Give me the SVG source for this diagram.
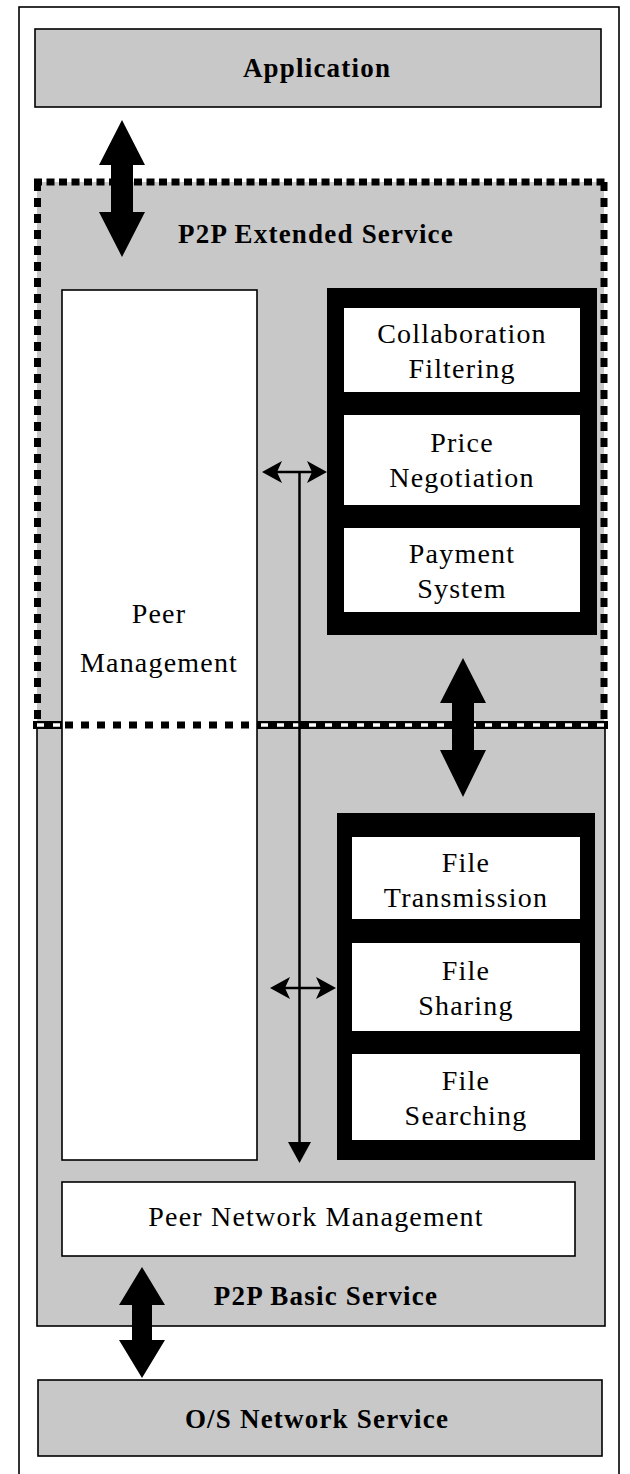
<svg xmlns="http://www.w3.org/2000/svg" width="630" height="1474" viewBox="0 0 630 1474">
  <style>
    .panel { fill: #c8c8c8; stroke: #000; stroke-width: 1.6; }
    .white { fill: #fff; stroke: #000; stroke-width: 1.6; }
    .black { fill: #000; }
    .inner { fill: #fff; }
    .title { font-family: "Liberation Serif", "Times New Roman", serif; font-weight: bold; font-size: 27px; letter-spacing: 1.2px; text-anchor: middle; fill: #000; }
    .label { font-family: "Liberation Serif", "Times New Roman", serif; font-size: 28px; letter-spacing: 1.2px; text-anchor: middle; fill: #000; }
    .dots { fill: none; stroke: #000; stroke-width: 7; }
    .thin { stroke: #000; stroke-width: 2.5; fill: none; }
  </style>

  <!-- outer frame (open at the bottom edge) -->
  <rect x="19" y="7" width="600" height="1490" fill="#fff" stroke="#000" stroke-width="1.6"/>

  <!-- top layer -->
  <g id="application">
    <rect class="panel" x="35" y="29" width="566" height="78"/>
    <text class="title" x="317" y="77">Application</text>
  </g>

  <!-- extended service area -->
  <g id="p2p-extended-service">
    <rect x="37" y="182" width="567" height="544" fill="#c8c8c8"/>
    <text class="title" x="316" y="243">P2P Extended Service</text>
  </g>

  <!-- basic service area -->
  <g id="p2p-basic-service">
    <rect class="panel" x="37" y="726" width="568" height="600"/>
    <text class="title" x="326" y="1305">P2P Basic Service</text>
  </g>

  <g id="peer-management">
    <rect class="white" x="62" y="290" width="195" height="870"/>
    <text class="label" x="159" y="623">Peer</text>
    <text class="label" x="159" y="672">Management</text>
  </g>

  <!-- boundary between extended and basic service -->
  <g id="service-boundary">
    <line x1="33" y1="725" x2="62" y2="725" stroke="#000" stroke-width="8"/>
    <line x1="257" y1="725" x2="608" y2="725" stroke="#000" stroke-width="8"/>
    <line x1="37" y1="725" x2="608" y2="725" stroke="#fff" stroke-width="3.5" stroke-dasharray="7 9"/>
    <line x1="65" y1="725" x2="257" y2="725" stroke="#000" stroke-width="7" stroke-dasharray="8 8"/>
  </g>

  <!-- dotted outline of the extended service area -->
  <g id="extended-outline">
    <line class="dots" x1="34" y1="182" x2="607" y2="182" stroke-dasharray="8 4.5"/>
    <line class="dots" x1="37.5" y1="182" x2="37.5" y2="722" stroke-dasharray="9 7"/>
    <line class="dots" x1="604" y1="182" x2="604" y2="722" stroke-dasharray="9 7"/>
  </g>

  <g id="extended-modules">
    <rect class="black" x="327" y="288" width="270" height="347"/>
    <g id="collaboration-filtering">
      <rect class="inner" x="344" y="308" width="236" height="84"/>
      <text class="label" x="462" y="343">Collaboration</text>
      <text class="label" x="462" y="378">Filtering</text>
    </g>
    <g id="price-negotiation">
      <rect class="inner" x="344" y="415" width="236" height="90"/>
      <text class="label" x="462" y="452">Price</text>
      <text class="label" x="462" y="487">Negotiation</text>
    </g>
    <g id="payment-system">
      <rect class="inner" x="344" y="528" width="236" height="84"/>
      <text class="label" x="462" y="563">Payment</text>
      <text class="label" x="462" y="598">System</text>
    </g>
  </g>

  <g id="basic-modules">
    <rect class="black" x="337" y="813" width="258" height="347"/>
    <g id="file-transmission">
      <rect class="inner" x="352" y="837" width="228" height="82"/>
      <text class="label" x="466" y="872">File</text>
      <text class="label" x="466" y="907">Transmission</text>
    </g>
    <g id="file-sharing">
      <rect class="inner" x="352" y="943" width="228" height="88"/>
      <text class="label" x="466" y="980">File</text>
      <text class="label" x="466" y="1015">Sharing</text>
    </g>
    <g id="file-searching">
      <rect class="inner" x="352" y="1054" width="228" height="86"/>
      <text class="label" x="466" y="1090">File</text>
      <text class="label" x="466" y="1125">Searching</text>
    </g>
  </g>

  <g id="peer-network-management">
    <rect class="white" x="62" y="1182" width="513" height="74"/>
    <text class="label" x="316" y="1226">Peer Network Management</text>
  </g>

  <g id="os-network-service">
    <rect class="panel" x="38" y="1380" width="564" height="76"/>
    <text class="title" x="317" y="1428">O/S Network Service</text>
  </g>

  <!-- connectors -->
  <g id="connectors">
    <!-- thick double arrows between layers -->
    <polygon class="black" points="122,120 145,165 133,165 133,212 145,212 122,257 99,212 111,212 111,165 99,165"/>
    <polygon class="black" points="463,658 486,703 474,703 474,750 486,750 463,797 440,750 452,750 452,703 440,703"/>
    <polygon class="black" points="142,1267 165,1305 152,1305 152,1340 165,1340 142,1378 119,1340 132,1340 132,1305 119,1305"/>

    <!-- thin vertical arrow from peer management links down to the network layer -->
    <line class="thin" x1="299.5" y1="472" x2="299.5" y2="1144"/>
    <polygon class="black" points="288,1142 311,1142 299.5,1163"/>

    <!-- thin double arrows into the module stacks -->
    <line class="thin" x1="270" y1="472" x2="319" y2="472" stroke-width="4"/>
    <polygon class="black" points="262,472 282,461 277,472 282,483"/>
    <polygon class="black" points="327,472 307,461 312,472 307,483"/>

    <line class="thin" x1="278" y1="988" x2="328" y2="988" stroke-width="4"/>
    <polygon class="black" points="270,988 290,977 285,988 290,999"/>
    <polygon class="black" points="336,988 316,977 321,988 316,999"/>
  </g>
</svg>
